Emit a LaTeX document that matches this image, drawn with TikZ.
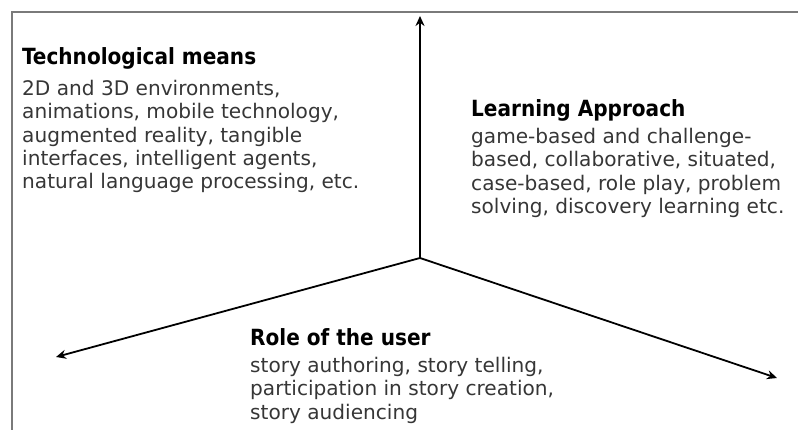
\documentclass[tikz,border=0pt]{standalone}
\usepackage{fontspec}
\setmainfont{DejaVu Sans Condensed}
\newfontfamily\bodyfont{DejaVu Sans}
\usetikzlibrary{arrows.meta}
\definecolor{bodygray}{HTML}{363636}
\definecolor{framegray}{HTML}{7A7A7A}
\begin{document}
\begin{tikzpicture}[x=1pt,y=-1pt,
  frame/.style={draw=framegray, line width=1.3pt},
  axis/.style={draw=black, line width=1.8pt, -{Stealth[length=10pt,width=9pt]}},
  titletext/.style={anchor=base west, inner sep=0pt, font=\fontsize{22.3}{25}\selectfont\bfseries, text=black},
  bodytext/.style={anchor=north west, inner sep=0pt, align=left, font=\bodyfont\fontsize{20.1}{23.3}\selectfont, text=bodygray}]
\useasboundingbox (0,0) rectangle (798,430);
\draw[frame] (12,431) -- (12,12) -- (799,12);
\coordinate (c) at (420,258);
\coordinate (up) at (420,16);
\coordinate (left) at (56,357);
\coordinate (right) at (777,378);
\draw[axis] (c) -- (up);
\draw[axis] (c) -- (left);
\draw[axis] (c) -- (right);
\node[titletext] (tt) at (22,65) {Technological means};
\node[bodytext] (tb) at (22,80) {2D and 3D environments,\\animations, mobile technology,\\augmented reality, tangible\\interfaces, intelligent agents,\\natural language processing, etc.};
\node[titletext] (lt) at (471,117) {Learning Approach};
\node[bodytext] (lb) at (471,128) {game-based and challenge-\\based, collaborative, situated,\\case-based, role play, problem\\solving, discovery learning etc.};
\node[titletext] (rt) at (250,345) {Role of the user};
\node[bodytext] (rb) at (250,357) {story authoring, story telling,\\participation in story creation,\\story audiencing};
\end{tikzpicture}
\end{document}
